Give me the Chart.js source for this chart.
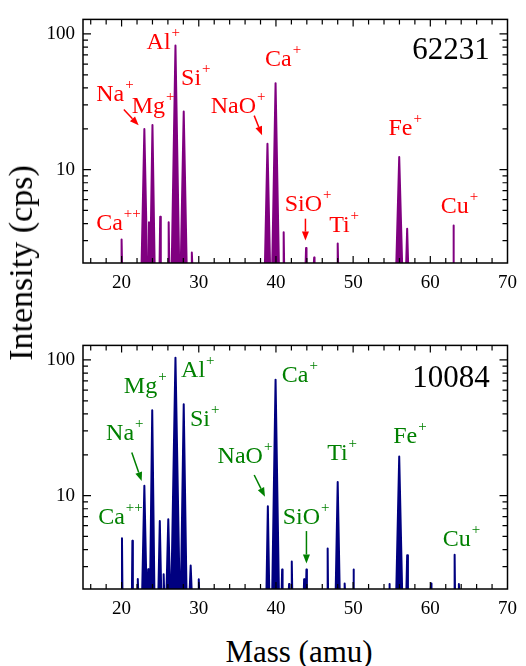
<!DOCTYPE html>
<html>
<head>
<meta charset="utf-8">
<script src="https://cdn.jsdelivr.net/npm/chart.js@4.4.1/dist/chart.umd.min.js"></script>
<style>
  body { margin: 0; background: #fff; width: 526px; height: 666px; position: relative; overflow: hidden; font-family: "Liberation Serif", "Times New Roman", serif; }
  canvas { position: absolute; left: 0; }
  #chartA { top: 0; }
  #chartB { top: 326px; }
  .title { position: absolute; color: #000; white-space: nowrap; line-height: 1; }
  #ytitle { font-size: 34px; left: 21px; top: 263px; transform: translate(-50%, -50%) rotate(-90deg); }
  #xtitle { font-size: 31px; left: 299px; top: 636px; transform: translateX(-50%); }
</style>
</head>
<body>
<canvas id="chartA" width="526" height="300"></canvas>
<canvas id="chartB" width="526" height="300"></canvas>
<div class="title" id="ytitle">Intensity (cps)</div>
<div class="title" id="xtitle">Mass (amu)</div>

<script>
// axes
const xRange = [15, 70];
const yRange = [2.05, 128];
const xMajorTicks = [20, 30, 40, 50, 60, 70];
const yMajorTicks = [10, 100];
const peakFloor = 2;
const serif = 'Liberation Serif';

// sample 62231 (top): peak mass, intensity (cps), half width at base (amu)
const massA  = [20.0, 22.95, 23.55, 24.0, 25.0, 26.1, 26.98, 28.05, 29.1, 38.9, 39.95, 41.0, 43.9, 44.95, 48.0, 55.97, 57.0, 63.0];
const countA = [3.05, 19.9, 4.1, 21.3, 4.5, 4.1, 82.3, 26.8, 2.45, 15.5, 43.4, 3.45, 2.64, 2.25, 2.86, 12.4, 3.66, 3.87];
const widthA = [0.06, 0.36, 0.1, 0.28, 0.08, 0.08, 0.48, 0.38, 0.06, 0.33, 0.43, 0.06, 0.06, 0.05, 0.06, 0.38, 0.13, 0.05];

// sample 10084 (bottom)
const massB  = [20.05, 21.4, 22.1, 22.95, 23.45, 23.97, 24.95, 25.45, 26.05, 26.98, 28.05, 28.95, 30.0, 38.95, 39.95, 40.8, 41.7, 42.05, 43.65, 43.95, 46.7, 48.0, 48.9, 50.05, 54.7, 55.97, 57.0, 60.1, 63.15, 63.7];
const countB = [4.85, 4.64, 2.43, 11.8, 2.87, 42.5, 6.5, 2.63, 6.7, 104, 47.2, 3.05, 2.42, 8.36, 71.6, 2.85, 2.23, 3.27, 2.42, 2.85, 4.07, 12.6, 2.25, 2.85, 2.23, 19.4, 3.63, 2.25, 3.67, 2.23];
const widthB = [0.06, 0.06, 0.05, 0.28, 0.06, 0.28, 0.18, 0.06, 0.23, 0.53, 0.36, 0.13, 0.05, 0.18, 0.43, 0.06, 0.04, 0.06, 0.04, 0.06, 0.05, 0.26, 0.05, 0.05, 0.05, 0.38, 0.1, 0.05, 0.05, 0.05];

// ion labels: text, superscript, mass, intensity (left / baseline)
const ionsA = [
  ['Na', '+', 16.71, 32.1], ['Mg', '+', 21.32, 26.3], ['Al', '+', 23.24, 77.9], ['Si', '+', 27.71, 42.0],
  ['NaO', '+', 31.55, 26.3], ['Ca', '+', 38.58, 57.7], ['Ca', '++', 16.71, 3.56], ['SiO', '+', 41.14, 4.96],
  ['Ti', '+', 46.89, 3.44], ['Fe', '+', 54.57, 17.9], ['Cu', '+', 61.34, 4.8]
];
const arrowsA = [[20.29, 27.7, 22.21, 21.2], [37.18, 25.0, 38.2, 17.9], [43.82, 4.35, 43.82, 3.0]];

const ionsB = [
  ['Na', '+', 17.99, 25.5], ['Mg', '+', 20.29, 56.7], ['Al', '+', 27.71, 75.4], ['Si', '+', 28.86, 32.7],
  ['NaO', '+', 32.44, 17.3], ['Ca', '+', 40.75, 69.3], ['Ca', '++', 16.97, 6.16], ['SiO', '+', 40.88, 6.16],
  ['Ti', '+', 46.63, 18.2], ['Fe', '+', 55.2, 24.6], ['Cu', '+', 61.6, 4.27]
];
const arrowsB = [[21.32, 20.8, 22.6, 12.8], [37.18, 14.2, 38.58, 9.83], [43.95, 5.48, 43.95, 3.16]];

Chart.defaults.font.family = serif;
Chart.defaults.color = '#000';

function peakPoints(mass, counts, widths) {
  const pts = [];
  mass.forEach((m, i) => {
    pts.push({ x: m - widths[i], y: peakFloor }, { x: m, y: counts[i] }, { x: m + widths[i], y: peakFloor });
  });
  return pts;
}

// box, inside ticks on all four sides, ion labels, arrows
const decorations = {
  id: 'decorations',
  afterDatasetsDraw(chart, args, opts) {
    const { ctx, chartArea: a, scales: { x, y } } = chart;
    ctx.save();
    ctx.strokeStyle = '#000';
    ctx.lineWidth = 1.5;
    ctx.strokeRect(a.left, a.top, a.right - a.left, a.bottom - a.top);

    ctx.lineWidth = 1.2;
    ctx.beginPath();
    for (let v = 16; v < xRange[1]; v += 2) {
      const px = x.getPixelForValue(v);
      const len = xMajorTicks.includes(v) ? 7 : 5;
      ctx.moveTo(px, a.bottom); ctx.lineTo(px, a.bottom - len);
      ctx.moveTo(px, a.top); ctx.lineTo(px, a.top + len);
    }
    for (let d = 1; d <= 100; d *= 10) {
      for (let k = 1; k < 10; k++) {
        const v = d * k;
        if (v < yRange[0] || v > yRange[1]) continue;
        const py = y.getPixelForValue(v);
        const len = k === 1 ? 8 : 5;
        ctx.moveTo(a.left, py); ctx.lineTo(a.left + len, py);
        ctx.moveTo(a.right, py); ctx.lineTo(a.right - len, py);
      }
    }
    ctx.stroke();

    // sample number
    ctx.fillStyle = '#000';
    ctx.font = `31px "${serif}"`;
    ctx.textAlign = 'right';
    ctx.textBaseline = 'alphabetic';
    ctx.fillText(opts.sample, x.getPixelForValue(67.7), y.getPixelForValue(opts.sampleY));

    // ion labels
    ctx.fillStyle = opts.color;
    ctx.textAlign = 'left';
    opts.ions.forEach(([t, s, m, c]) => {
      const px = x.getPixelForValue(m), py = y.getPixelForValue(c);
      ctx.font = `24px "${serif}"`;
      ctx.fillText(t, px, py);
      const w = ctx.measureText(t).width;
      ctx.font = `15px "${serif}"`;
      ctx.fillText(s, px + w + 1, py - 12);
    });

    // arrows
    ctx.strokeStyle = opts.color;
    ctx.lineWidth = 1.5;
    opts.arrows.forEach(([m1, c1, m2, c2]) => {
      const x1 = x.getPixelForValue(m1), y1 = y.getPixelForValue(c1);
      const x2 = x.getPixelForValue(m2), y2 = y.getPixelForValue(c2);
      const ang = Math.atan2(y2 - y1, x2 - x1);
      const hl = 9, hw = 3.5;
      const bx = x2 - hl * Math.cos(ang), by = y2 - hl * Math.sin(ang);
      ctx.beginPath();
      ctx.moveTo(x1, y1); ctx.lineTo(bx, by);
      ctx.stroke();
      ctx.beginPath();
      ctx.moveTo(x2, y2);
      ctx.lineTo(bx + hw * Math.sin(ang), by - hw * Math.cos(ang));
      ctx.lineTo(bx - hw * Math.sin(ang), by + hw * Math.cos(ang));
      ctx.closePath();
      ctx.fill();
    });
    ctx.restore();
  }
};

function makeChart(id, mass, counts, widths, color, labelColor, sample, sampleY, ions, arrows) {
  return new Chart(document.getElementById(id), {
    type: 'line',
    data: {
      datasets: [{
        data: peakPoints(mass, counts, widths),
        borderColor: color,
        backgroundColor: color,
        borderWidth: 2,
        borderJoinStyle: 'round',
        pointRadius: 0,
        tension: 0,
        fill: 'start'
      }]
    },
    options: {
      responsive: false,
      animation: false,
      events: [],
      layout: { padding: { top: 15, right: 12, left: 0, bottom: 0 } },
      plugins: {
        legend: { display: false },
        tooltip: { enabled: false },
        decorations: { color: labelColor, sample, sampleY, ions, arrows }
      },
      scales: {
        x: {
          type: 'linear',
          min: xRange[0],
          max: xRange[1],
          grid: { display: false, drawTicks: false },
          border: { display: false },
          afterBuildTicks: s => { s.ticks = xMajorTicks.map(v => ({ value: v })); },
          afterFit: s => { s.height = 37; },
          ticks: { font: { family: serif, size: 19 }, padding: 9, maxRotation: 0, color: '#000' }
        },
        y: {
          type: 'logarithmic',
          min: yRange[0],
          max: yRange[1],
          grid: { display: false, drawTicks: false },
          border: { display: false },
          afterBuildTicks: s => { s.ticks = yMajorTicks.map(v => ({ value: v })); },
          afterFit: s => { s.width = 83; },
          ticks: { font: { family: serif, size: 19 }, padding: 8, color: '#000', callback: v => String(v) }
        }
      }
    },
    plugins: [decorations]
  });
}

makeChart('chartA', massA, countA, widthA, '#800080', '#ff0000', '62231', 65.9, ionsA, arrowsA);
makeChart('chartB', massB, countB, widthB, '#000080', '#008000', '10084', 63.7, ionsB, arrowsB);
</script>
</body>
</html>
